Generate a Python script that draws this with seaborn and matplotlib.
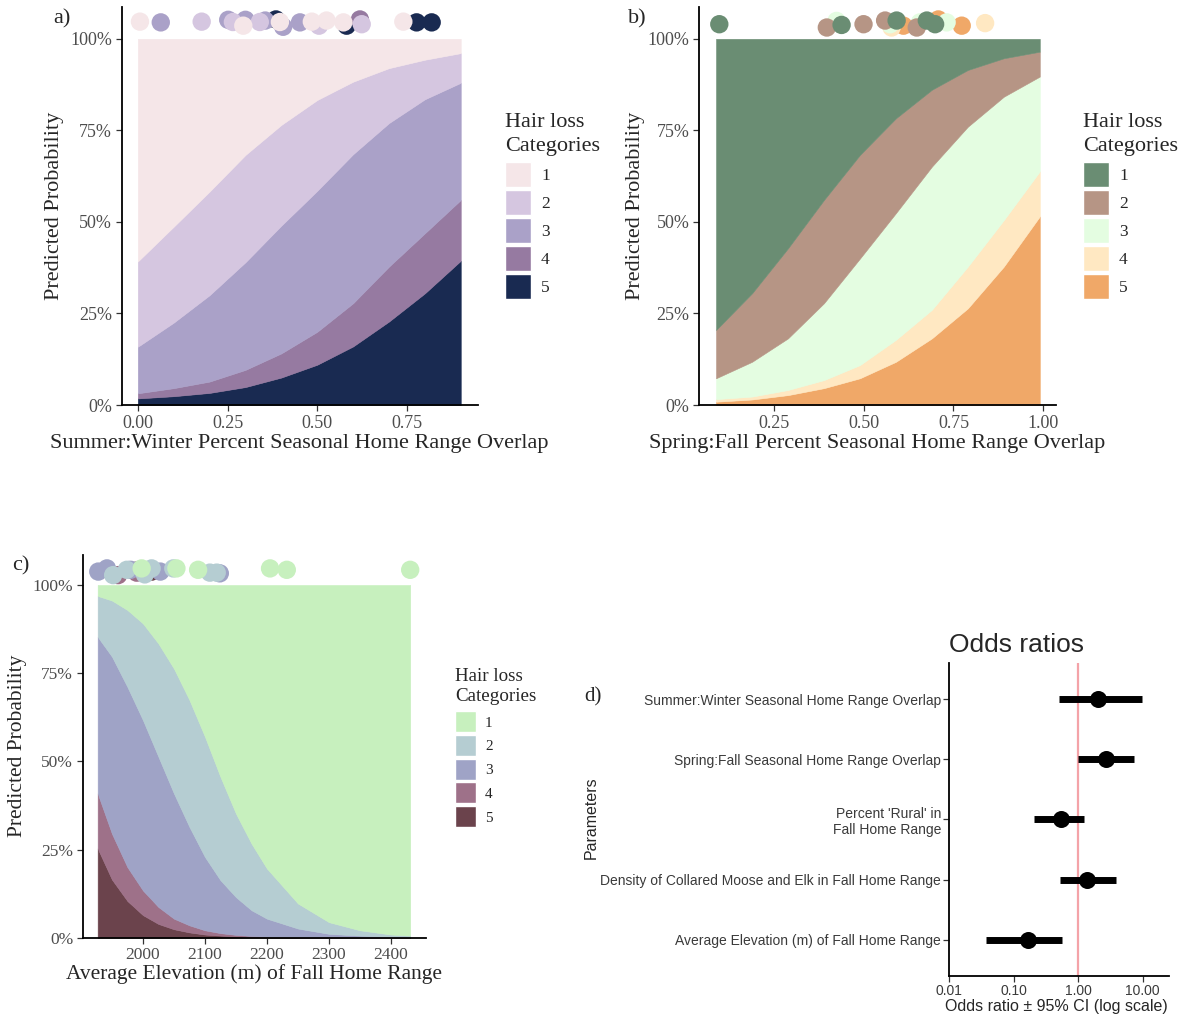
import numpy as np
import pandas as pd
import matplotlib
matplotlib.use("Agg")
import matplotlib.pyplot as plt
import seaborn as sns
from matplotlib.patches import Patch
from matplotlib.ticker import PercentFormatter, FixedLocator, FixedFormatter, NullLocator, FormatStrFormatter

# ---------------- data ----------------
categories = ["1", "2", "3", "4", "5"]

# panel a : Summer:Winter overlap
a_x = [0.0, 0.1, 0.2, 0.3, 0.4, 0.5, 0.6, 0.7, 0.8, 0.9]
a_p1 = [0.608, 0.513, 0.417, 0.317, 0.235, 0.167, 0.117, 0.080, 0.057, 0.039]
a_p2 = [0.233, 0.262, 0.283, 0.293, 0.275, 0.248, 0.198, 0.150, 0.108, 0.081]
a_p3 = [0.127, 0.179, 0.236, 0.294, 0.349, 0.385, 0.407, 0.392, 0.366, 0.320]
a_p4 = [0.014, 0.022, 0.031, 0.047, 0.066, 0.090, 0.118, 0.150, 0.164, 0.166]
a_p5 = [0.018, 0.024, 0.033, 0.049, 0.075, 0.110, 0.160, 0.228, 0.305, 0.394]
a_colors = ["#F5E6E8", "#D5C6E0", "#AAA1C8", "#967AA1", "#192A51"]
a_pt_x = [0.006, 0.064, 0.178, 0.252, 0.265, 0.294, 0.300, 0.340, 0.355, 0.385, 0.396, 0.405,
          0.452, 0.485, 0.505, 0.526, 0.573, 0.582, 0.619, 0.624, 0.740, 0.777, 0.819]
a_pt_y = [1.047, 1.045, 1.047, 1.052, 1.046, 1.036, 1.052, 1.046, 1.050, 1.053, 1.046, 1.033,
          1.045, 1.047, 1.036, 1.050, 1.045, 1.036, 1.053, 1.040, 1.047, 1.045, 1.045]
a_pt_cat = ["1", "3", "2", "3", "2", "1", "3", "2", "3", "5", "1", "3",
            "3", "1", "2", "1", "1", "5", "4", "2", "1", "5", "5"]

# panel b : Spring:Fall overlap
b_x = [0.09, 0.19, 0.29, 0.39, 0.49, 0.59, 0.69, 0.79, 0.89, 0.99]
b_p1 = [0.795, 0.695, 0.572, 0.440, 0.317, 0.217, 0.139, 0.085, 0.053, 0.035]
b_p2 = [0.132, 0.187, 0.246, 0.282, 0.283, 0.259, 0.210, 0.155, 0.105, 0.068]
b_p3 = [0.057, 0.095, 0.141, 0.210, 0.291, 0.346, 0.391, 0.382, 0.337, 0.259]
b_p4 = [0.007, 0.008, 0.014, 0.022, 0.036, 0.060, 0.078, 0.114, 0.127, 0.123]
b_p5 = [0.009, 0.015, 0.027, 0.046, 0.073, 0.118, 0.182, 0.264, 0.378, 0.515]
b_colors = ["#6A8D73", "#B69585", "#E4FDE1", "#FFE8C2", "#F0A868"]
b_pt_x = [0.099, 0.398, 0.425, 0.439, 0.500, 0.560, 0.574, 0.592, 0.578, 0.611, 0.648, 0.657,
          0.676, 0.708, 0.699, 0.731, 0.773, 0.838]
b_pt_y = [1.040, 1.031, 1.049, 1.038, 1.040, 1.050, 1.040, 1.050, 1.031, 1.036, 1.031, 1.045,
          1.050, 1.053, 1.040, 1.045, 1.036, 1.043]
b_pt_cat = ["1", "2", "3", "1", "2", "2", "3", "1", "4", "5", "2", "3",
            "1", "5", "1", "3", "5", "4"]

# panel c : elevation
c_x = [1927, 1950, 1975, 2000, 2025, 2050, 2075, 2100, 2125, 2150, 2175, 2200, 2250, 2300, 2350, 2400, 2431]
c_p1 = [0.031, 0.044, 0.071, 0.109, 0.166, 0.237, 0.326, 0.430, 0.544, 0.648, 0.733, 0.804, 0.903, 0.956, 0.979, 0.991, 0.994]
c_p2 = [0.116, 0.159, 0.218, 0.274, 0.321, 0.354, 0.360, 0.341, 0.293, 0.237, 0.189, 0.142, 0.071, 0.033, 0.015, 0.006, 0.004]
c_p3 = [0.444, 0.502, 0.511, 0.483, 0.426, 0.355, 0.279, 0.208, 0.150, 0.107, 0.073, 0.051, 0.025, 0.010, 0.005, 0.002, 0.001]
c_p4 = [0.156, 0.130, 0.096, 0.070, 0.048, 0.030, 0.020, 0.012, 0.007, 0.004, 0.003, 0.002, 0.001, 0.001, 0.001, 0.001, 0.001]
c_p5 = [0.253, 0.165, 0.104, 0.064, 0.039, 0.024, 0.015, 0.009, 0.006, 0.004, 0.002, 0.001, 0.000, 0.000, 0.000, 0.000, 0.000]
c_colors = ["#C7F0BE", "#B5CDD2", "#9FA3C6", "#9E7189", "#6B434C"]
c_pt_x = [1928, 1942, 1952, 1960, 1974, 1980, 1987, 1990, 1995, 1998, 2003, 2014, 2014, 2028,
          2049, 2054, 2089, 2108, 2119, 2124, 2205, 2232, 2431]
c_pt_y = [1.038, 1.047, 1.028, 1.028, 1.043, 1.043, 1.040, 1.035, 1.043, 1.047, 1.030, 1.047, 1.038, 1.038,
          1.047, 1.047, 1.043, 1.035, 1.035, 1.033, 1.047, 1.043, 1.043]
c_pt_cat = ["3", "3", "2", "4", "2", "3", "5", "4", "5", "1", "2", "2", "5", "3",
            "2", "1", "1", "2", "2", "3", "1", "1", "1"]

# panel d : odds ratios
d_params = ["Summer:Winter Seasonal Home Range Overlap",
            "Spring:Fall Seasonal Home Range Overlap",
            "Percent 'Rural' in\nFall Home Range",
            "Density of Collared Moose and Elk in Fall Home Range",
            "Average Elevation (m) of Fall Home Range"]
d_or = [2.07, 2.71, 0.54, 1.37, 0.164]
d_lo = [0.50, 1.00, 0.21, 0.52, 0.0365]
d_hi = [9.7, 7.4, 1.24, 3.92, 0.56]
d_ticks = [0.01, 0.1, 1, 10]
d_ticklabels = ["0.01", "0.10", "1.00", "10.00"]

# ---------------- style ----------------
sns.set_style("ticks")
SERIF = ["Liberation Serif", "DejaVu Serif"]
SANS = ["Liberation Sans", "DejaVu Sans"]
plt.rcParams["font.family"] = SERIF

W, H = 1188, 1017
fig = plt.figure(figsize=(W / 100, H / 100), dpi=100)


def px_axes(l, t, r, b):
    return fig.add_axes([l / W, 1 - b / H, (r - l) / W, (b - t) / H])


def ftext(x, y, s, **kw):
    fig.text(x / W, 1 - y / H, s, **kw)


def area_panel(ax, x, probs, colors, px, py, pcat, xlim, ylim, xticks, xfmt, tfs):
    # stack from category 5 (bottom) to 1 (top)
    ax.stackplot(x, *probs[::-1], colors=colors[::-1], edgecolor="face", linewidth=0.4)
    pts = pd.DataFrame({"x": px, "y": py, "cat": pcat})
    order = {c: i for i, c in enumerate(categories[::-1])}
    pts = pts.assign(o=pts["cat"].map(order)).sort_values("o", kind="stable")
    sns.scatterplot(data=pts, x="x", y="y", hue="cat", palette=dict(zip(categories, colors)),
                    s=175, linewidth=0, legend=False, ax=ax, clip_on=False, zorder=3)
    ax.set_xlim(*xlim)
    ax.set_ylim(*ylim)
    ax.set_xlabel("")
    ax.set_ylabel("")
    ax.yaxis.set_major_locator(FixedLocator([0, 0.25, 0.5, 0.75, 1.0]))
    ax.yaxis.set_major_formatter(PercentFormatter(xmax=1, decimals=0))
    ax.xaxis.set_major_locator(FixedLocator(xticks))
    ax.xaxis.set_major_formatter(FormatStrFormatter(xfmt))
    sns.despine(ax=ax)
    for s in ("left", "bottom"):
        ax.spines[s].set_linewidth(1.3)
        ax.spines[s].set_color("black")
    ax.tick_params(length=4.5, width=0.9, color="#333333", labelcolor="#4D4D4D",
                   labelsize=tfs, pad=2.5)


def add_legend(ax, colors, left, top, fs, tfs, box_w, box_h, step, textpad, tls, title_gap):
    fpx = fs * 100 / 72
    # matplotlib shrinks the handle box by 0.35*fs*(hh-0.7); invert that
    hh = (box_h / fpx - 0.245) / 0.65
    handles = [Patch(facecolor=c, edgecolor="white", linewidth=1.0) for c in colors]
    leg = ax.legend(handles, categories, title="Hair loss\nCategories", loc="upper left",
                    bbox_to_anchor=(left / W, 1 - top / H), bbox_transform=fig.transFigure,
                    frameon=False, fontsize=fs, title_fontsize=tfs,
                    handlelength=box_w / fpx, handleheight=hh,
                    labelspacing=(step - box_h) / fpx, handletextpad=textpad / fpx,
                    borderpad=0, borderaxespad=0, alignment="left")
    t = leg.get_title()
    t.set_multialignment("left")
    t.set_linespacing(tls)
    try:
        leg._legend_box.sep = title_gap * 72 / 100
    except Exception:
        pass
    return leg


# ---------------- panel a ----------------
ax_a = px_axes(121.7, 7, 477.6, 405)
area_panel(ax_a, a_x, [a_p1, a_p2, a_p3, a_p4, a_p5], a_colors, a_pt_x, a_pt_y, a_pt_cat,
           (-0.0449, 0.947), (0, 1.087), [0, 0.25, 0.5, 0.75], "%.2f", 13)
add_legend(ax_a, a_colors, 505, 113, 12.5, 16, 26, 25, 28, 10, 1.35, 6.5)
ftext(54.5, 206, "Predicted Probability", rotation=90, ha="center", va="center", fontsize=16)
ftext(299.6, 448, "Summer:Winter Percent Seasonal Home Range Overlap", ha="center", va="baseline", fontsize=16)
ftext(53, 23, "a)", fontsize=16, va="baseline")

# ---------------- panel b ----------------
ax_b = px_axes(699.4, 7, 1055.6, 405)
area_panel(ax_b, b_x, [b_p1, b_p2, b_p3, b_p4, b_p5], b_colors, b_pt_x, b_pt_y, b_pt_cat,
           (0.0437, 1.034), (0, 1.087), [0.25, 0.5, 0.75, 1.0], "%.2f", 13)
add_legend(ax_b, b_colors, 1083, 113, 12.5, 16, 26, 25, 28, 10, 1.35, 6.5)
ftext(635.6, 206, "Predicted Probability", rotation=90, ha="center", va="center", fontsize=16)
ftext(877.5, 448, "Spring:Fall Percent Seasonal Home Range Overlap", ha="center", va="baseline", fontsize=16)
ftext(628, 23, "b)", fontsize=16, va="baseline")

# ---------------- panel c ----------------
ax_c = px_axes(82.9, 555, 425.7, 937.7)
area_panel(ax_c, c_x, [c_p1, c_p2, c_p3, c_p4, c_p5], c_colors, c_pt_x, c_pt_y, c_pt_cat,
           (1903.2, 2456), (0, 1.085), [2000, 2100, 2200, 2300, 2400], "%d", 12.5)
add_legend(ax_c, c_colors, 455, 668, 11, 13.7, 21, 21, 23.7, 9, 1.25, 6)
ftext(17.9, 746, "Predicted Probability", rotation=90, ha="center", va="center", fontsize=15.5)
ftext(254.3, 979, "Average Elevation (m) of Fall Home Range", ha="center", va="baseline", fontsize=15.5)
ftext(12, 570, "c)", fontsize=16, va="baseline")

# ---------------- panel d ----------------
ax_d = px_axes(949.3, 663, 1168.6, 976)
ax_d.set_xscale("log")
ax_d.axvline(1, color="#F4A3A8", lw=1.6, zorder=1)
ax_d.hlines(y=d_params, xmin=d_lo, xmax=d_hi, color="black", lw=5, zorder=2)
sns.scatterplot(x=d_or, y=d_params, color="black", s=150, linewidth=0, ax=ax_d, zorder=3)
ax_d.set_xlim(0.01, 25.4)
ax_d.set_ylim(4.6, -0.6)
ax_d.xaxis.set_major_locator(FixedLocator(d_ticks))
ax_d.xaxis.set_major_formatter(FixedFormatter(d_ticklabels))
ax_d.xaxis.set_minor_locator(NullLocator())
ax_d.set_xlabel("")
ax_d.set_ylabel("")
sns.despine(ax=ax_d)
for s in ("left", "bottom"):
    ax_d.spines[s].set_linewidth(1.3)
    ax_d.spines[s].set_color("black")
ax_d.tick_params(length=4, width=0.9, color="#333333", labelcolor="#3A3A3A", labelsize=10, pad=2)
for lab in ax_d.get_xticklabels() + ax_d.get_yticklabels():
    lab.set_fontfamily(SANS)
ftext(949.3, 652, "Odds ratios", fontsize=19, family=SANS, va="baseline")
ftext(591, 818, "Parameters", rotation=90, ha="center", va="center", fontsize=11.5, family=SANS)
ftext(1056, 1011, "Odds ratio \u00b1 95% CI (log scale)", ha="center", va="baseline", fontsize=11.5, family=SANS)
ftext(584, 701, "d)", fontsize=15, va="baseline")

fig.savefig("out.png", dpi=100)
